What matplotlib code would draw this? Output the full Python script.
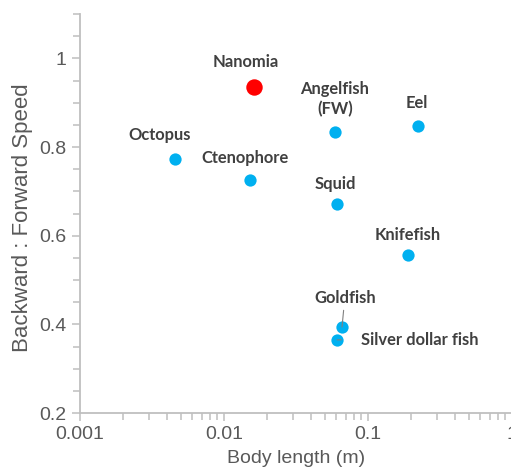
import matplotlib
matplotlib.use("Agg")
import matplotlib.pyplot as plt
from matplotlib.ticker import MultipleLocator, FixedLocator, LogLocator, NullFormatter

plt.rcParams["font.family"] = ["Liberation Sans", "DejaVu Sans"]

# data
names = ["Octopus", "Ctenophore", "Angelfish\n(FW)", "Eel", "Squid",
         "Knifefish", "Goldfish", "Silver dollar fish"]
length_m = [0.00457, 0.0152, 0.059, 0.222, 0.061, 0.19, 0.066, 0.061]
speed_ratio = [0.772, 0.725, 0.833, 0.847, 0.671, 0.556, 0.394, 0.365]

nanomia_len = 0.0162
nanomia_ratio = 0.935

BLUE = "#00B0F0"
RED = "#FF0000"
GREY = "#BFBFBF"
TXT = "#595959"
LBL = "#404040"

fig = plt.figure(figsize=(5.11, 4.75), dpi=100)
ax = fig.add_axes([80 / 511, 62 / 475, 432 / 511, 399 / 475])

ax.scatter(length_m, speed_ratio, s=78, color=BLUE, zorder=3, linewidths=0)
ax.scatter([nanomia_len], [nanomia_ratio], s=140, color=RED, zorder=3, linewidths=0)

ax.set_xscale("log")
ax.set_xlim(0.001, 1)
ax.set_ylim(0.2, 1.1)

ax.xaxis.set_major_locator(FixedLocator([0.001, 0.01, 0.1, 1]))
ax.set_xticklabels(["0.001", "0.01", "0.1", "1"])
ax.xaxis.set_minor_locator(LogLocator(base=10, subs=range(2, 10)))
ax.xaxis.set_minor_formatter(NullFormatter())
ax.yaxis.set_major_locator(FixedLocator([0.2, 0.4, 0.6, 0.8, 1.0]))
ax.set_yticklabels(["0.2", "0.4", "0.6", "0.8", "1"])
ax.yaxis.set_minor_locator(MultipleLocator(0.05))

for side in ("top", "right"):
    ax.spines[side].set_visible(False)
for side in ("left", "bottom"):
    ax.spines[side].set_color(GREY)
    ax.spines[side].set_linewidth(1.3)

ax.tick_params(which="both", direction="out", color=GREY, width=1.1,
               labelcolor=TXT, labelsize=14)
ax.tick_params(which="major", length=6)
ax.tick_params(which="minor", length=5)
ax.tick_params(axis="y", pad=4)

ax.set_xlabel("Body length (m)", fontsize=14, color=TXT, labelpad=5)
ax.set_ylabel("Backward : Forward Speed", fontsize=16, color=TXT)
ax.yaxis.set_label_coords(-0.108, 0.49)

lab = dict(fontsize=11.9, fontweight="bold", color=LBL, family="Lato",
           ha="center", va="bottom", zorder=4)

ax.annotate("Nanomia", (nanomia_len, nanomia_ratio), xytext=(-6, 12),
            textcoords="offset points", **lab)

offsets = {
    "Octopus": (-11, 12),
    "Ctenophore": (-4, 10),
    "Angelfish\n(FW)": (0, 11),
    "Eel": (-1, 11),
    "Squid": (-1, 9),
    "Knifefish": (0, 9),
}
for n, x, y in zip(names, length_m, speed_ratio):
    if n in offsets:
        kw = dict(lab)
        if "\n" in n:
            kw["linespacing"] = 1.25
        ax.annotate(n, (x, y), xytext=offsets[n], textcoords="offset points", **kw)

# goldfish with a short leader line
ax.annotate("Goldfish", (length_m[6], speed_ratio[6]), xytext=(2, 15),
            textcoords="offset points",
            arrowprops=dict(arrowstyle="-", color="#808080", lw=0.8,
                            shrinkA=1, shrinkB=0), **lab)
sd = dict(lab)
sd.update(ha="left", va="center")
ax.annotate("Silver dollar fish", (length_m[7], speed_ratio[7]), xytext=(17, 0),
            textcoords="offset points",
            arrowprops=dict(arrowstyle="-", color="#808080", lw=0.8,
                            shrinkA=12, shrinkB=0), **sd)

fig.savefig("out.png", dpi=100)
